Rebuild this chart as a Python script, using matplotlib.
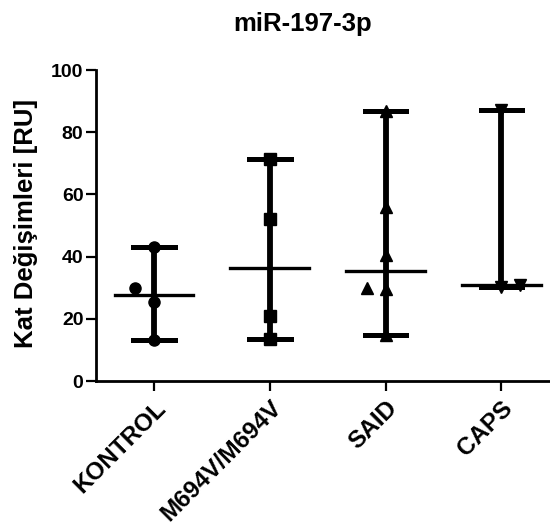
import numpy as np
import matplotlib.pyplot as plt

plt.rcParams['font.family'] = ['Liberation Sans', 'DejaVu Sans']
plt.rcParams['font.weight'] = 'bold'

groups = ['KONTROL', 'M694V/M694V', 'SAID', 'CAPS']
markers = ['o', 's', '^', 'v']

# values, with small horizontal jitter offsets
kontrol = [43.1, 29.9, 25.4, 13.2]
kontrol_dx = [0, -0.16, 0, 0]
m694v = [71.5, 52.1, 20.9, 13.4]
m694v_dx = [0, 0, 0, 0]
said = [86.7, 56.0, 40.5, 30.0, 29.6, 14.9]
said_dx = [0, 0, 0, -0.16, 0, 0]
caps = [87.3, 30.2, 30.8]
caps_dx = [0, 0, 0.16]

data = [kontrol, m694v, said, caps]
offsets = [kontrol_dx, m694v_dx, said_dx, caps_dx]

fig = plt.figure(figsize=(5.5, 5.27), dpi=100)
ax = fig.add_axes([0.1745, 0.277, 0.8255, 0.59])

for i, (vals, dx, m) in enumerate(zip(data, offsets, markers)):
    vals = np.array(vals)
    xs = i + np.array(dx)
    ax.plot(xs, vals, linestyle='none', marker=m, color='black', markersize=8, zorder=3)
    med = np.median(vals)
    lo, hi = vals.min(), vals.max()
    ax.plot([i, i], [lo, hi], color='black', lw=4.2, solid_capstyle='butt', zorder=2)
    ax.plot([i - 0.18, i + 0.18], [lo, lo], color='black', lw=3.6, zorder=2)
    ax.plot([i - 0.18, i + 0.18], [hi, hi], color='black', lw=3.6, zorder=2)
    ax.plot([i - 0.34, i + 0.34], [med, med], color='black', lw=2.4, zorder=2)

ax.set_xlim(-0.5, 3.42)
ax.set_ylim(0, 100)
ax.set_yticks([0, 20, 40, 60, 80, 100])
ax.set_xticks(range(len(groups)))
ax.set_xticklabels(groups, rotation=45, ha='right', rotation_mode='anchor', fontsize=17.5)
ax.tick_params(axis='y', labelsize=14, width=1.6, length=7, pad=2)
ax.tick_params(axis='x', width=1.6, length=7, pad=4)
ax.spines['top'].set_visible(False)
ax.spines['right'].set_visible(False)
ax.spines['left'].set_linewidth(2)
ax.spines['bottom'].set_linewidth(2)
ax.set_ylabel('Kat Değişimleri [RU]', fontsize=18.5, fontweight='bold')
ax.yaxis.set_label_coords(-0.128, 0.508)
fig.text(0.55, 0.941, 'miR-197-3p', ha='center', va='baseline', fontsize=18.5, fontweight='bold')

fig.savefig('out.png', dpi=100)
